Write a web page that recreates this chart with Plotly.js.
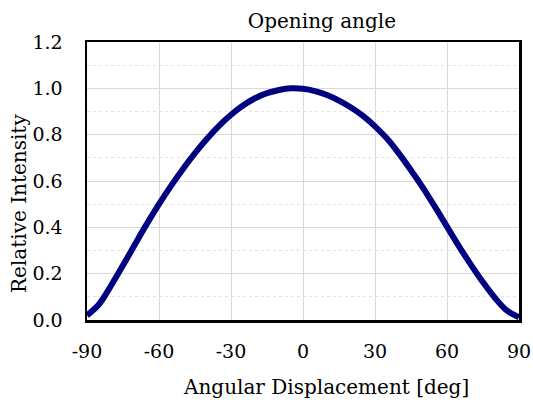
<!DOCTYPE html>
<html>
<head>
<meta charset="utf-8">
<script src="https://cdn.plot.ly/plotly-3.0.1.min.js"></script>
<style>html,body{margin:0;padding:0;background:#fff;}#chart{width:533px;height:405px;}</style>
</head>
<body>
<div id="chart"></div>
<script>
// Data
const angleDeg = [-90,-85,-80,-75,-70,-65,-60,-55,-50,-45,-40,-35,-30,-25,-20,-15,-10,-5,0,5,10,15,20,25,30,35,40,45,50,55,60,65,70,75,80,85,90];
const relIntensity = [0.02,0.068,0.148,0.236,0.327,0.416,0.5,0.579,0.652,0.72,0.782,0.838,0.886,0.926,0.957,0.979,0.993,1.0,0.998,0.988,0.971,0.947,0.917,0.881,0.836,0.783,0.718,0.646,0.57,0.488,0.403,0.318,0.238,0.163,0.095,0.04,0.012];
const xTickVals = [-90,-60,-30,0,30,60,90];
const xTickText = ['-90','-60','-30','0','30','60','90'];
const yTickVals = [0,0.2,0.4,0.6,0.8,1.0,1.2];
const yTickText = ['0.0','0.2','0.4','0.6','0.8','1.0','1.2'];

const font = 'DejaVu Serif, Liberation Serif, serif';

const trace = {
  x: angleDeg, y: relIntensity, type: 'scatter', mode: 'lines',
  line: {color: '#000080', width: 6, shape: 'spline', smoothing: 1},
  hoverinfo: 'x+y', showlegend: false
};

const layout = {
  width: 533, height: 405,
  margin: {l: 87, r: 14, t: 42, b: 85},
  paper_bgcolor: '#fff', plot_bgcolor: '#fff',
  font: {family: font, size: 18, color: '#000'},
  title: {text: 'Opening angle', x: 0.604, xanchor: 'center', xref: 'container', y: 0.948, yanchor: 'middle', yref: 'container', font: {family: font, size: 20, color: '#000'}},
  xaxis: {
    range: [-90, 90], tickmode: 'array', tickvals: xTickVals, ticktext: xTickText,
    showgrid: true, gridcolor: '#d9d9d9', gridwidth: 1,
    zeroline: false, showline: true, mirror: true, linecolor: '#000', linewidth: 2.5,
    ticks: '', ticklabelstandoff: 13, tickfont: {family: font, size: 19, color: '#000'}
  },
  yaxis: {
    range: [0, 1.2], tickmode: 'array', tickvals: yTickVals, ticktext: yTickText,
    showgrid: true, gridcolor: '#d9d9d9', gridwidth: 1,
    minor: {dtick: 0.1, tick0: 0, showgrid: true, gridcolor: '#e2e2e2', griddash: 'dot', gridwidth: 1, ticks: ''},
    zeroline: false, showline: true, mirror: true, linecolor: '#000', linewidth: 2.5,
    ticks: '', ticklabelstandoff: 18, tickfont: {family: font, size: 19, color: '#000'}
  },
  annotations: [
    {text: 'Angular Displacement [deg]', xref: 'paper', yref: 'paper', x: 0.553, y: -0.19, xanchor: 'center', yanchor: 'top', showarrow: false, font: {family: font, size: 20, color: '#000'}},
    {text: 'Relative Intensity', xref: 'paper', yref: 'paper', x: -0.158, y: 0.42, xanchor: 'center', yanchor: 'middle', textangle: -90, showarrow: false, font: {family: font, size: 20, color: '#000'}}
  ]
};

Plotly.newPlot('chart', [trace], layout, {displayModeBar: false, staticPlot: true});
</script>
</body>
</html>
